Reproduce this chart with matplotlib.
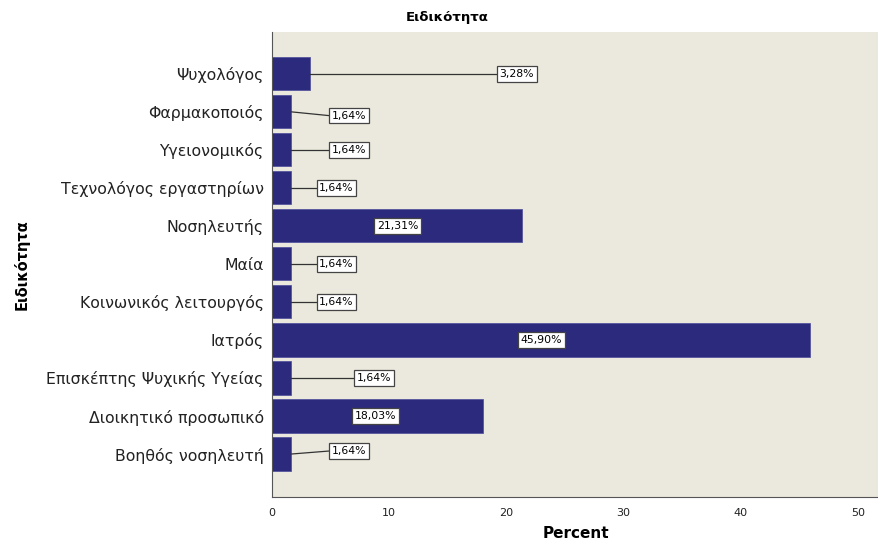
import matplotlib
matplotlib.use("Agg")
import matplotlib.pyplot as plt

categories = ["Ψυχολόγος", "Φαρμακοποιός", "Υγειονομικός", "Τεχνολόγος εργαστηρίων",
              "Νοσηλευτής", "Μαία", "Κοινωνικός λειτουργός", "Ιατρός",
              "Επισκέπτης Ψυχικής Υγείας", "Διοικητικό προσωπικό", "Βοηθός νοσηλευτή"]
percents = [3.28, 1.64, 1.64, 1.64, 21.31, 1.64, 1.64, 45.90, 1.64, 18.03, 1.64]
value_labels = ["3,28%", "1,64%", "1,64%", "1,64%", "21,31%", "1,64%", "1,64%",
                "45,90%", "1,64%", "18,03%", "1,64%"]
# label box positions (layout)
label_x = [20.9, 6.6, 6.6, 5.5, 10.7, 5.5, 5.5, 23.0, 8.7, 8.8, 6.6]
label_dy = [0.0, 0.1, 0.0, 0.0, 0.0, 0.0, 0.0, 0.0, 0.0, 0.0, -0.08]

plt.rcParams['font.family'] = ['DejaVu Sans']

fig = plt.figure(figsize=(8.79, 5.47), dpi=100)
ax = fig.add_axes([272/879, 1 - 497/547, 607/879, 465/547])
ax.set_facecolor("#EBE9DD")

y = list(range(len(categories)))
ax.barh(y, percents, height=0.87, color="#2C2A7C", edgecolor="#4a4a9a", linewidth=0.5, zorder=2)

for i, (v, lab, lx, dy) in enumerate(zip(percents, value_labels, label_x, label_dy)):
    ly = i + dy
    if lx > v:
        ax.plot([v, lx - 1.7], [i, ly], color="#333333", linewidth=0.9, zorder=3)
    ax.text(lx, ly, lab, ha="center", va="center", fontsize=7.8, color="black", zorder=4,
            bbox=dict(boxstyle="square,pad=0.25", facecolor="white", edgecolor="#444444", linewidth=0.9))

ax.set_ylim(len(categories) - 1 + 1.13, -1.1)
ax.set_xlim(0, 607/11.72)
ax.set_xticks([0, 10, 20, 30, 40, 50])
ax.set_yticks(y)
ax.set_yticklabels(categories, fontsize=11.3, color="#222222")
ax.tick_params(axis='x', labelsize=8, length=0, pad=8, colors="#222222")
ax.tick_params(axis='y', length=0, pad=6)
for s in ["top", "right"]:
    ax.spines[s].set_visible(False)
ax.spines["left"].set_color("#555555")
ax.spines["bottom"].set_color("#555555")

ax.set_xlabel("Percent", fontsize=11, fontweight="bold", labelpad=6)
ax.set_ylabel("Ειδικότητα", fontsize=10.5, fontweight="bold", labelpad=12)
fig.text(447/879, 1 - 18/547, "Ειδικότητα", ha="center", va="center",
         fontsize=9.5, fontweight="bold")

fig.savefig("out.png", dpi=100, facecolor="white")
